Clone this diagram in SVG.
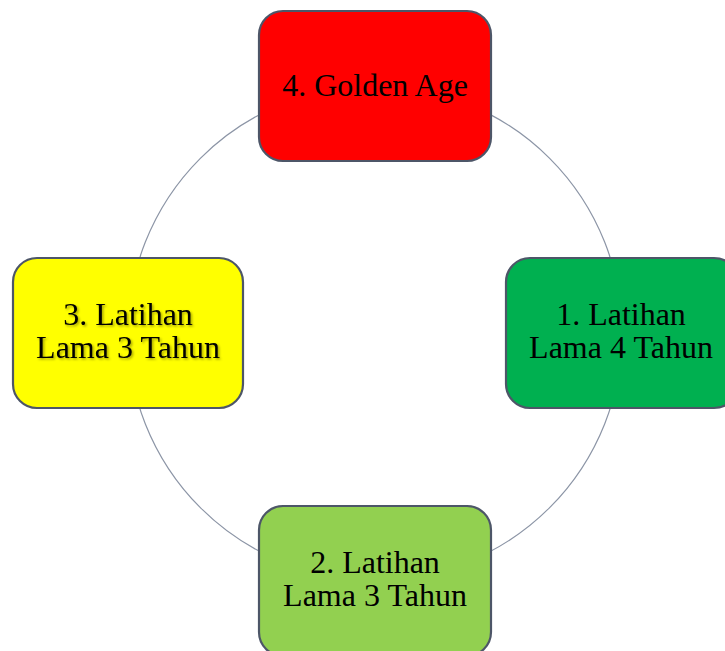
<svg xmlns="http://www.w3.org/2000/svg" width="725" height="651" viewBox="0 0 725 651">
<style>
.box{stroke:#4d5668;stroke-width:2.2}
.t{font-family:"Liberation Serif","Times New Roman",serif;font-size:32px;fill:#000;text-anchor:middle}
</style>
<defs>
<filter id="sh" x="-10%" y="-10%" width="120%" height="130%">
<feDropShadow dx="1.5" dy="1.5" stdDeviation="1" flood-color="#000" flood-opacity="0.35"/>
</filter>
</defs>
<rect width="725" height="651" fill="#fff"/>
<g id="connectors">
<circle cx="375" cy="333" r="247" fill="none" stroke="#8c95a6" stroke-width="1.2"/>
</g>
<g id="node4">
<rect class="box" x="259" y="11" width="232" height="150" rx="24" fill="#ff0000"/>
<text class="t" x="375" y="96">4. Golden Age</text>
</g>
<g id="node1">
<rect class="box" x="506" y="258" width="232" height="150" rx="24" fill="#00b050"/>
<text class="t" x="621" y="325">1. Latihan</text>
<text class="t" x="621" y="358">Lama 4 Tahun</text>
</g>
<g id="node2">
<rect class="box" x="259" y="506" width="232" height="150" rx="24" fill="#92d050"/>
<text class="t" x="375" y="573">2. Latihan</text>
<text class="t" x="375" y="606">Lama 3 Tahun</text>
</g>
<g id="node3">
<rect class="box" x="13" y="258" width="230" height="150" rx="24" fill="#ffff00"/>
<g filter="url(#sh)">
<text class="t" x="128" y="325">3. Latihan</text>
<text class="t" x="128" y="358">Lama 3 Tahun</text>
</g>
</g>
</svg>
